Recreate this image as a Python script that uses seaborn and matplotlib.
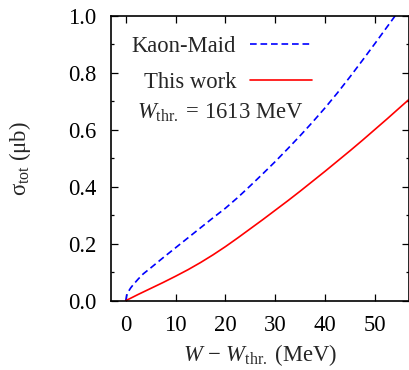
import matplotlib
matplotlib.use("Agg")
import matplotlib.pyplot as plt
import seaborn as sns
import pandas as pd
from matplotlib.ticker import MultipleLocator

# ---- data ----
x_this = [0, 2.5, 5, 7.5, 10, 12.5, 15, 17.5, 20, 22.5, 25, 27.5, 30, 32.5,
          35, 37.5, 40, 42.5, 45, 47.5, 50, 52.5, 55, 57]
y_this = [0.0, 0.022, 0.043, 0.064, 0.086, 0.109, 0.134, 0.161, 0.190, 0.221,
          0.253, 0.285, 0.318, 0.351, 0.385, 0.420, 0.455, 0.491, 0.527, 0.564,
          0.602, 0.640, 0.679, 0.710]

x_kmaid = [0, 0.2, 0.5, 1, 1.5, 2.5, 3.5, 5, 7.5, 10, 12.5, 15, 17.5, 20,
           22.5, 25, 27.5, 30, 32.5, 35, 37.5, 40, 42.5, 45, 47.5, 50, 52.5, 55]
y_kmaid = [0.0, 0.018, 0.031, 0.045, 0.056, 0.076, 0.094, 0.115, 0.151, 0.186,
           0.221, 0.256, 0.291, 0.325, 0.363, 0.404, 0.446, 0.489, 0.534, 0.580,
           0.628, 0.678, 0.731, 0.787, 0.845, 0.904, 0.964, 1.024]

labels = ["Kaon-Maid", "This work"]
annotation = r"$W_{\rm thr.}$ = 1613 MeV"
x_ticks = [0, 10, 20, 30, 40, 50]
y_ticks = [0.0, 0.2, 0.4, 0.6, 0.8, 1.0]

df = pd.concat([
    pd.DataFrame({"x": x_kmaid, "y": y_kmaid, "model": labels[0]}),
    pd.DataFrame({"x": x_this, "y": y_this, "model": labels[1]}),
])

sns.set_theme(style="ticks")
plt.rcParams["font.family"] = ["Liberation Serif", "DejaVu Serif"]
plt.rcParams["mathtext.fontset"] = "custom"
plt.rcParams["mathtext.rm"] = "Liberation Serif"
plt.rcParams["mathtext.it"] = "Liberation Serif:italic"
plt.rcParams["mathtext.bf"] = "Liberation Serif:bold"

FS = 16.3
fig = plt.figure(figsize=(4.09, 3.70), dpi=100)
ax = fig.add_axes([111 / 409, 1 - 300.7 / 370, 297.5 / 409, 284.7 / 370])

sns.lineplot(data=df, x="x", y="y", hue="model", style="model",
             palette={labels[0]: "#0000ff", labels[1]: "#ff0000"},
             dashes={labels[0]: (4.0, 2.3), labels[1]: ""},
             linewidth=1.2, ax=ax, legend=True, sort=False)

ax.set_xlim(-2.95, 56.7)
ax.set_ylim(0, 1.0)
ax.set_xticks(x_ticks)
ax.set_yticks(y_ticks)
ax.set_yticklabels([f"{v:.1f}" for v in y_ticks])
ax.yaxis.set_minor_locator(MultipleLocator(0.1))

ax.tick_params(which="both", direction="in", top=True, right=True,
               labelsize=FS, colors="black", width=0.9)
ax.tick_params(which="major", length=5)
ax.tick_params(which="minor", length=2.5)
ax.tick_params(axis="x", pad=10.5)
ax.tick_params(axis="y", pad=10.5)
for s in ax.spines.values():
    s.set_visible(True)
    s.set_linewidth(1.2)
    s.set_color("black")

ax.set_xlabel(r"$W$ − $W_{\rm thr.}$ (MeV)", fontsize=FS, labelpad=4)
ax.set_ylabel(r"σ$_{\rm tot}$ (μb)", fontsize=FS, labelpad=25)

handles, labs = ax.get_legend_handles_labels()
ax.legend(handles, labs, loc="upper right", bbox_to_anchor=(0.676, 0.931),
          frameon=False, markerfirst=False, fontsize=FS, handlelength=2.75,
          handletextpad=0.6, labelspacing=0.68, borderpad=0, borderaxespad=0)

ax.text(0.0874, 0.6407, annotation, transform=ax.transAxes, fontsize=FS,
        ha="left", va="baseline")

fig.savefig("out.png", dpi=100)
